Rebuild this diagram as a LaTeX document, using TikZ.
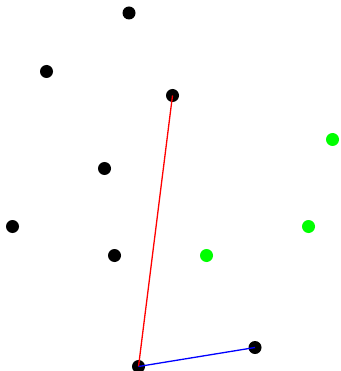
\documentclass[tikz,border=0pt]{standalone}
\begin{document}
\begin{tikzpicture}[x=1pt,y=-1pt,
  dot/.style={circle,fill=black,inner sep=0pt,minimum size=13pt},
  gdot/.style={circle,fill=green,inner sep=0pt,minimum size=13pt},
  edge/.style={line width=1.3pt}]
\useasboundingbox (0,0) rectangle (340,371);
\node[dot] (a) at (129,13) {};
\node[dot] (b) at (46.5,71.5) {};
\node[dot] (c) at (172.5,95.5) {};
\node[dot] (d) at (104.5,168.5) {};
\node[dot] (e) at (12.5,226.5) {};
\node[dot] (f) at (114.5,255.5) {};
\node[dot] (g) at (138.5,366.5) {};
\node[dot] (h) at (255,347.5) {};
\node[gdot] (i) at (332.5,139.5) {};
\node[gdot] (j) at (308.5,226.5) {};
\node[gdot] (k) at (206.5,255.5) {};
\draw[edge,red] (c.center) -- (g.center);
\draw[edge,blue] (g.center) -- (h.center);
\end{tikzpicture}
\end{document}
